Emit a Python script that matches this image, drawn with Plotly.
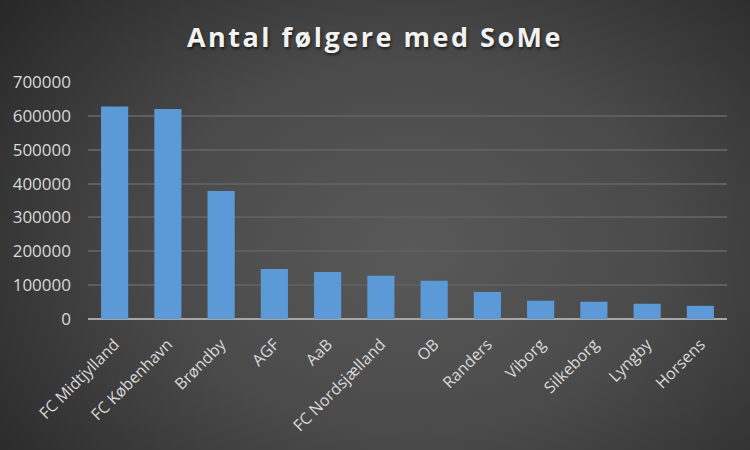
import plotly.graph_objects as go
import urllib.parse

clubs = ["FC Midtjylland", "FC København", "Brøndby", "AGF", "AaB", "FC Nordsjælland",
         "OB", "Randers", "Viborg", "Silkeborg", "Lyngby", "Horsens"]
followers = [628000, 620000, 378000, 148000, 139000, 128000,
             113000, 80000, 54000, 51000, 45000, 39000]
y_ticks = [0, 100000, 200000, 300000, 400000, 500000, 600000, 700000]

W, H = 750, 450
ML, MR, MT, MB = 88, 23, 82, 131
pw, ph = W - ML - MR, H - MT - MB

svg = (
    "<svg xmlns='http://www.w3.org/2000/svg' width='750' height='450'>"
    "<defs><radialGradient id='g' cx='0.55' cy='0.55' r='0.75' "
    "gradientTransform='translate(0.55 0.55) scale(1 1.25) translate(-0.55 -0.55)'>"
    "<stop offset='0' stop-color='#595959'/>"
    "<stop offset='0.45' stop-color='#4a4a4a'/>"
    "<stop offset='1' stop-color='#232323'/>"
    "</radialGradient></defs>"
    "<rect width='750' height='450' fill='url(#g)'/></svg>"
)
bg_src = "data:image/svg+xml;charset=utf-8," + urllib.parse.quote(svg)

fig = go.Figure()
fig.add_trace(go.Bar(
    x=clubs, y=followers,
    marker=dict(color="#5b9ad7", line=dict(width=0)),
    hoverinfo="x+y",
))

fig.update_layout(
    width=W, height=H,
    margin=dict(l=ML, r=MR, t=MT, b=MB, pad=0),
    paper_bgcolor="#3a3a3a",
    plot_bgcolor="rgba(0,0,0,0)",
    bargap=0.49,
    showlegend=False,
    title=dict(
        text="<span style='letter-spacing:2.5px'><b>Antal følgere med SoMe</b></span>",
        x=0.5, xanchor="center", y=1 - 38 / H, yanchor="middle",
        font=dict(family="Open Sans", size=27, color="#f2f2f2",
                  shadow="1px 2px 3px rgba(0,0,0,0.6)"),
    ),
    font=dict(family="Open Sans", color="#d9d9d9"),
    images=[dict(
        source=bg_src, xref="paper", yref="paper",
        x=-ML / pw, y=1 + MT / ph, sizex=W / pw, sizey=H / ph,
        xanchor="left", yanchor="top", sizing="stretch", layer="below",
    )],
    xaxis=dict(
        tickangle=-45, tickfont=dict(size=16, color="#d9d9d9", family="Open Sans"),
        showgrid=False, showline=False, ticks="", zeroline=False,
        ticklabelstandoff=12,
    ),
    yaxis=dict(
        range=[0, 700000], tickvals=y_ticks, ticktext=[str(v) for v in y_ticks],
        tickfont=dict(size=17, color="#d9d9d9", family="Open Sans"),
        showgrid=True, gridcolor="#5e5e5e", gridwidth=1.5,
        zeroline=True, zerolinecolor="#a6a6a6", zerolinewidth=2,
        showline=False, ticks="", ticklabelstandoff=16,
    ),
)

fig.write_html("out.html", config={"displayModeBar": False},
               post_script="document.body.style.margin='0';document.body.style.padding='0';")
